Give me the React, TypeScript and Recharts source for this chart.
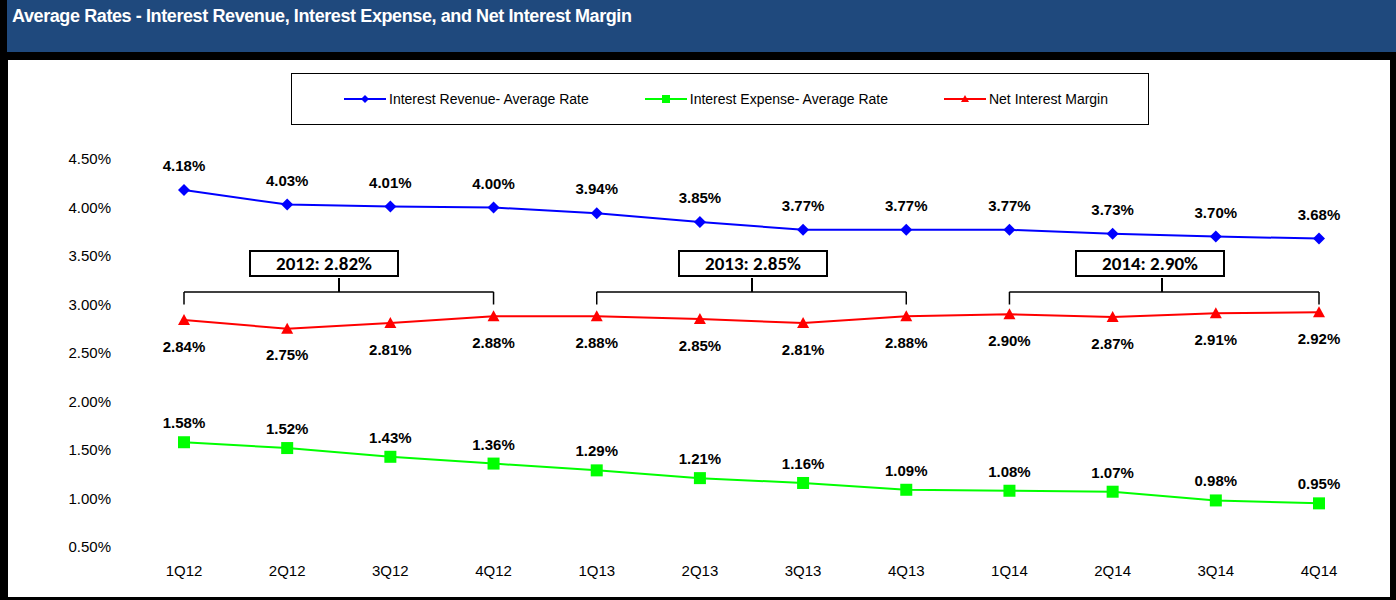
import { LineChart, Line, XAxis, YAxis, LabelList, ReferenceLine } from "recharts";

const quarters = ["1Q12", "2Q12", "3Q12", "4Q12", "1Q13", "2Q13", "3Q13", "4Q13", "1Q14", "2Q14", "3Q14", "4Q14"];
const revenueRate = [4.18, 4.03, 4.01, 4.0, 3.94, 3.85, 3.77, 3.77, 3.77, 3.73, 3.7, 3.68];
const expenseRate = [1.58, 1.52, 1.43, 1.36, 1.29, 1.21, 1.16, 1.09, 1.08, 1.07, 0.98, 0.95];
const netMargin = [2.84, 2.75, 2.81, 2.88, 2.88, 2.85, 2.81, 2.88, 2.9, 2.87, 2.91, 2.92];
const yTicks = [0.5, 1, 1.5, 2, 2.5, 3, 3.5, 4, 4.5];
const yearBrackets = [
  { label: "2012: 2.82%", from: "1Q12", to: "4Q12", mid: 339, left: 249, w: 150 },
  { label: "2013: 2.85%", from: "1Q13", to: "4Q13", mid: 752, left: 678, w: 150 },
  { label: "2014: 2.90%", from: "1Q14", to: "4Q14", mid: 1162, left: 1075, w: 150 },
];

const data = quarters.map((q, i) => ({
  q,
  rev: revenueRate[i],
  exp: expenseRate[i],
  nim: netMargin[i],
}));

const fmt = (v: any) => `${Number(v).toFixed(2)}%`;
const font = "Arial, 'Liberation Sans', sans-serif";

const Diamond = (p: any) => (
  <path d={`M${p.cx},${p.cy - 6}L${p.cx + 6},${p.cy}L${p.cx},${p.cy + 6}L${p.cx - 6},${p.cy}Z`} fill="#0000FF" />
);
const Square = (p: any) => <rect x={p.cx - 6} y={p.cy - 6} width={12} height={12} fill="#00FF00" />;
const Tri = (p: any) => (
  <path d={`M${p.cx},${p.cy - 6}L${p.cx + 6},${p.cy + 5}L${p.cx - 6},${p.cy + 5}Z`} fill="#FF0000" />
);

const labelStyle = { fontFamily: font, fontSize: 15, fontWeight: 700, fill: "#000" };

export default function App() {
  const legend = [
    { name: "Interest Revenue- Average Rate", color: "#0000FF", shape: "d", ml: 52 },
    { name: "Interest Expense- Average Rate", color: "#00FF00", shape: "s", ml: 56 },
    { name: "Net Interest Margin", color: "#FF0000", shape: "t", ml: 56 },
  ];
  return (
    <div style={{ position: "fixed", left: 0, top: 0, width: 1396, height: 600, background: "#000", fontFamily: font }}>
      <div style={{ position: "absolute", left: 7, top: 0, width: 1389, height: 52, background: "#1F497D" }}>
        <div style={{ color: "#fff", fontWeight: 700, fontSize: 18, padding: "6px 0 0 5px", letterSpacing: -0.4 }}>
          Average Rates - Interest Revenue, Interest Expense, and Net Interest Margin
        </div>
      </div>
      <div style={{ position: "absolute", left: 8, top: 60, width: 1382, height: 537, background: "#fff" }} />
      <div
        style={{
          position: "absolute", left: 291, top: 73, width: 856, height: 50, border: "1px solid #000",
          display: "flex", alignItems: "center", fontSize: 14, background: "#fff",
        }}
      >
        {legend.map((l) => (
          <div key={l.name} style={{ display: "flex", alignItems: "center", marginLeft: l.ml }}>
            <svg width={42} height={10}>
              <line x1={0} y1={5} x2={42} y2={5} stroke={l.color} strokeWidth={2} />
              {l.shape === "d" && <path d="M21,1L25,5L21,9L17,5Z" fill={l.color} />}
              {l.shape === "s" && <rect x={17} y={1} width={8} height={8} fill={l.color} />}
              {l.shape === "t" && <path d="M21,1L25,8L17,8Z" fill={l.color} />}
            </svg>
            <span style={{ marginLeft: 3 }}>{l.name}</span>
          </div>
        ))}
      </div>
      <div style={{ position: "absolute", left: 0, top: 0 }}>
        <LineChart width={1396} height={600} data={data} margin={{ top: 159, bottom: 0, left: 72, right: 25 }}>
          <XAxis
            dataKey="q"
            axisLine={false}
            tickLine={false}
            padding={{ left: 52, right: 52 }}
            tick={{ fontFamily: font, fontSize: 15, fill: "#000" }}
            tickMargin={12}
            height={53}
          />
          <YAxis
            domain={[0.5, 4.5]}
            ticks={yTicks}
            tickFormatter={fmt}
            axisLine={false}
            tickLine={false}
            width={60}
            tickMargin={15}
            tick={{ fontFamily: font, fontSize: 15, fill: "#000" }}
          />
          {yearBrackets.map((b) => [
            <ReferenceLine key={b.label + "h"} segment={[{ x: b.from, y: 3.13 }, { x: b.to, y: 3.13 }]} stroke="#000" strokeWidth={1.5} />,
            <ReferenceLine key={b.label + "l"} segment={[{ x: b.from, y: 3.13 }, { x: b.from, y: 3.0 }]} stroke="#000" strokeWidth={1.5} />,
            <ReferenceLine key={b.label + "r"} segment={[{ x: b.to, y: 3.13 }, { x: b.to, y: 3.0 }]} stroke="#000" strokeWidth={1.5} />,
          ])}
          <Line dataKey="rev" stroke="#0000FF" strokeWidth={2} dot={<Diamond />} isAnimationActive={false}>
            <LabelList dataKey="rev" position="top" offset={19} formatter={fmt} style={labelStyle} />
          </Line>
          <Line dataKey="nim" stroke="#FF0000" strokeWidth={2} dot={<Tri />} isAnimationActive={false}>
            <LabelList dataKey="nim" position="bottom" offset={21} formatter={fmt} style={labelStyle} />
          </Line>
          <Line dataKey="exp" stroke="#00FF00" strokeWidth={2} dot={<Square />} isAnimationActive={false}>
            <LabelList dataKey="exp" position="top" offset={14} formatter={fmt} style={labelStyle} />
          </Line>
        </LineChart>
      </div>
      {yearBrackets.map((b) => (
        <div key={b.label}>
          <div style={{ position: "absolute", left: b.mid - 1, top: 278, width: 2, height: 14, background: "#000" }} />
          <div
            style={{
              position: "absolute", left: b.left, top: 250, width: b.w, height: 27, border: "2px solid #000",
              background: "#fff", fontFamily: "Calibri, 'Carlito', 'Open Sans', sans-serif", fontWeight: 700,
              fontSize: 19, display: "flex", alignItems: "center", justifyContent: "center", boxSizing: "border-box",
            }}
          >
            {b.label}
          </div>
        </div>
      ))}
    </div>
  );
}
